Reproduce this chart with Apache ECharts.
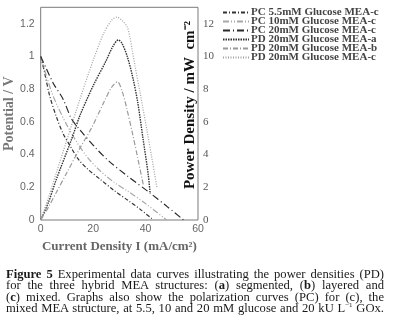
<!DOCTYPE html>
<html>
<head>
<meta charset="utf-8">
<script src="https://cdn.jsdelivr.net/npm/echarts@6/dist/echarts.min.js"></script>
<style>
  html, body { margin: 0; padding: 0; background: #fff; }
  #chart { position: absolute; left: 0; top: 0; width: 396px; height: 321px; }
  #caption {
    position: absolute; left: 6px; top: 268.5px; width: 378px;
    font-family: 'Liberation Serif', serif; font-size: 12.6px; line-height: 11.5px; color: #1a1a1a;
  }
  #caption div { white-space: nowrap; text-align: justify; text-align-last: justify; height: 11.5px; }
</style>
</head>
<body>
<div id="chart"></div>
<div id="caption">
  <div><b>Figure 5</b> Experimental data curves illustrating the power densities (PD)</div>
  <div>for the three hybrid MEA structures: (<b>a</b>) segmented, (<b>b</b>) layered and</div>
  <div>(<b>c</b>) mixed. Graphs also show the polarization curves (PC) for (c), the</div>
  <div>mixed MEA structure, at 5.5, 10 and 20 mM glucose and 20 kU L<sup style="font-size:7px;line-height:0">−1</sup> GOx.</div>
</div>
<script>
// polarization curves [current density, potential]
const pc5_5mM = [[0, 1.0], [1.5, 0.9], [3.4, 0.76], [6, 0.63], [8.5, 0.53], [11.7, 0.44], [14.4, 0.37],
  [18, 0.31], [22.6, 0.25], [28, 0.18], [33.3, 0.12], [38, 0.065], [43, 0]]
const pc10mM = [[0, 1.0], [2, 0.89], [4, 0.79], [6, 0.71], [10, 0.58], [14.4, 0.46], [18, 0.38],
  [22.7, 0.30], [28, 0.23], [33.3, 0.175], [40, 0.1], [48, 0]]
const pc20mM = [[0, 1.0], [2, 0.93], [5, 0.83], [8.5, 0.74], [11.7, 0.62], [15, 0.55], [21, 0.44],
  [26, 0.36], [33, 0.27], [41.7, 0.165], [48, 0.085], [54.5, 0]]

// power density curves [current density, mW cm-2]
const pdMeaA = [[0, 0], [3, 1.1], [6, 2.5], [11.7, 4.9], [15, 6.4], [20, 8.2], [25, 9.75], [27.5, 10.6],
  [29.6, 11.0], [31, 10.8], [33, 10.0], [35, 8.8], [37, 7.2], [39, 5.0], [41, 2.8], [41.7, 1.7]]
const pdMeaB = [[0, 0], [3, 0.8], [6, 1.7], [10, 2.9], [15, 4.4], [19.3, 5.6], [24.4, 7.3], [27, 8.1],
  [29.3, 8.45], [31, 7.9], [32.7, 6.9], [35, 5.3], [37, 3.8], [39.2, 2.1]]
const pdMeaC = [[0, 0], [3, 1.4], [6, 2.9], [10, 4.9], [15, 7.4], [20, 9.75], [24, 11.4], [27, 12.2],
  [29, 12.4], [31, 12.2], [33, 11.8], [34, 11.2], [35, 10.3], [36, 9.4], [38, 7.7], [40.5, 5.5],
  [42.5, 3.7], [44.3, 2.0]]

const xTicks = { min: 0, max: 60, interval: 20 }
const potentialTicks = { min: 0, max: 1.3, interval: 0.2 }
const powerTicks = { min: 0, max: 13, interval: 2 }

const chart = echarts.init(document.getElementById('chart'), undefined, { renderer: 'canvas' })

function line(name, data, yAxisIndex, color, type, width = 1.2) {
  return {
    name,
    type: 'line',
    data,
    yAxisIndex,
    smooth: 0.3,
    showSymbol: false,
    symbol: 'none',
    animation: false,
    lineStyle: { color, type, width },
    itemStyle: { color },
  }
}

const serif = 'Liberation Serif'
const sans = 'Liberation Sans'

chart.setOption({
  animation: false,
  grid: { left: 40.7, right: 198, top: 7.3, bottom: 101, show: true, borderColor: '#7a7a7a', borderWidth: 1 },
  legend: {
    orient: 'vertical',
    left: 222,
    top: 7,
    padding: 0,
    itemWidth: 26,
    itemHeight: 9,
    itemGap: -2,
    itemStyle: { opacity: 0, borderWidth: 0 },
    textStyle: { fontFamily: serif, fontWeight: 'bold', fontSize: 11, lineHeight: 9, color: '#444', padding: [0, 0, 0, -3] },
    data: ['PC 5.5mM Glucose MEA-c', 'PC 10mM Glucose MEA-c', 'PC 20mM Glucose MEA-c',
      'PD 20mM Glucose MEA-a', 'PD 20mM Glucose MEA-b', 'PD 20mM Glucose MEA-c'],
  },
  xAxis: {
    type: 'value',
    ...xTicks,
    name: 'Current Density I (mA/cm²)',
    nameLocation: 'middle',
    nameGap: 19,
    nameTextStyle: { fontFamily: serif, fontWeight: 'bold', fontSize: 13, color: '#666' },
    axisLine: { show: false },
    axisTick: { show: false },
    splitLine: { show: false },
    axisLabel: { fontFamily: sans, fontSize: 10.5, color: '#666', margin: 4 },
  },
  yAxis: [
    {
      type: 'value',
      ...potentialTicks,
      name: 'Potential / V',
      nameLocation: 'middle',
      nameGap: 17,
      nameTextStyle: { fontFamily: serif, fontWeight: 'bold', fontSize: 14, color: '#777' },
      axisLine: { show: false },
      axisTick: { show: false },
      splitLine: { show: false },
      axisLabel: { fontFamily: sans, fontSize: 10.5, color: '#666', margin: 6, showMaxLabel: false },
    },
    {
      type: 'value',
      ...powerTicks,
      position: 'right',
      axisLine: { show: false },
      axisTick: { show: false },
      splitLine: { show: false },
      axisLabel: { fontFamily: serif, fontSize: 11, color: '#555', margin: 5, showMaxLabel: false },
    },
  ],
  graphic: [
    {
      type: 'text',
      x: 190,
      y: 105,
      rotation: Math.PI / 2,
      style: {
        text: 'Power Density / mW  cm⁻²',
        fontFamily: serif,
        fontWeight: 'bold',
        fontSize: 15,
        fill: '#111',
        align: 'center',
        verticalAlign: 'middle',
      },
    },
  ],
  series: [
    line('PC 5.5mM Glucose MEA-c', pc5_5mM, 0, '#333', [4, 2, 1, 2]),
    line('PC 10mM Glucose MEA-c', pc10mM, 0, '#a8a8a8', [6, 2, 1, 2, 1, 2]),
    line('PC 20mM Glucose MEA-c', pc20mM, 0, '#2a2a2a', [7, 3, 1, 3]),
    line('PD 20mM Glucose MEA-a', pdMeaA, 1, '#333', [1.5, 1], 1.4),
    line('PD 20mM Glucose MEA-b', pdMeaB, 1, '#9a9a9a', [5, 2, 1, 2]),
    line('PD 20mM Glucose MEA-c', pdMeaC, 1, '#a0a0a0', [1, 1.5]),
  ],
})

window.addEventListener('resize', () => chart.resize())
</script>
</body>
</html>
